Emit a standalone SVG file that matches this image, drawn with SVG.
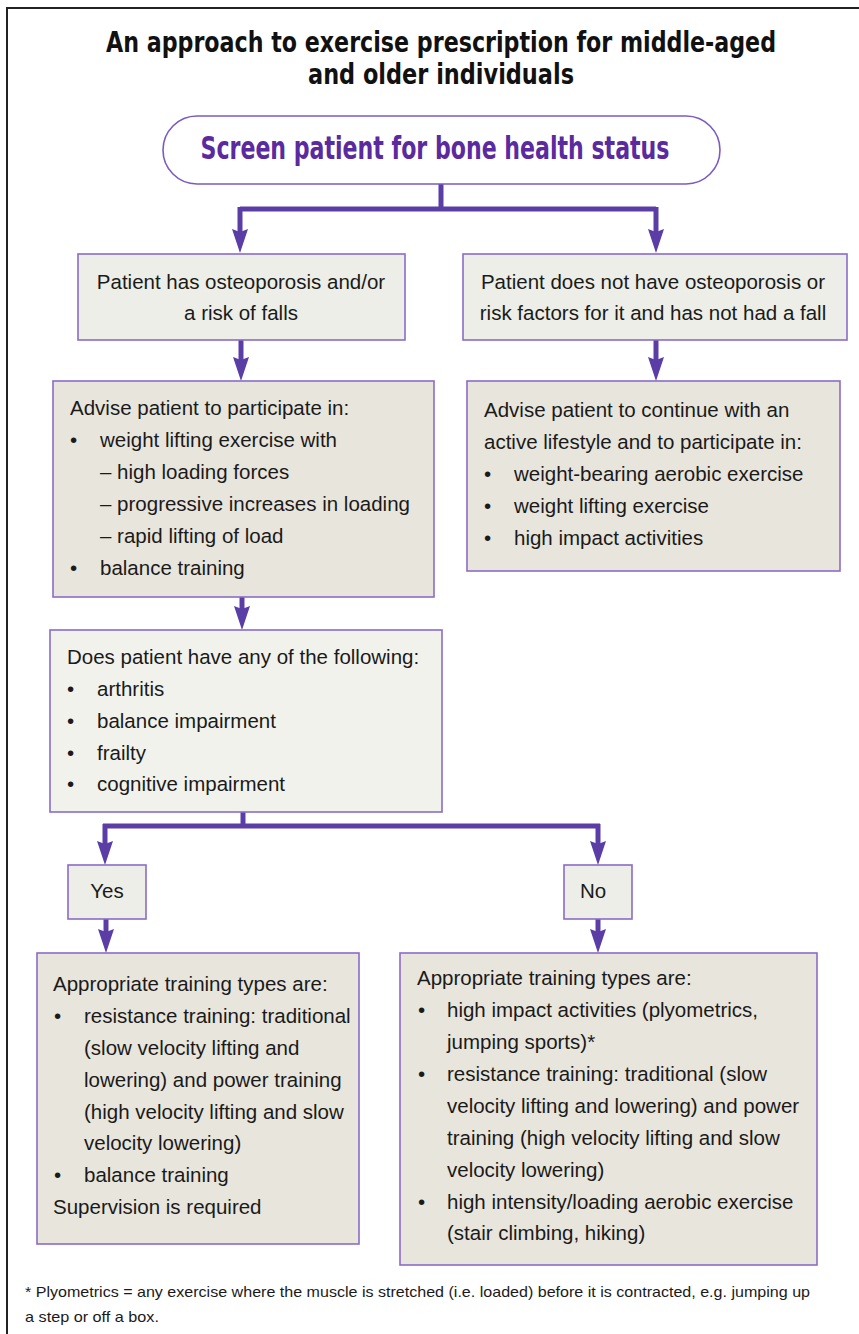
<svg xmlns="http://www.w3.org/2000/svg" width="859" height="1334" viewBox="0 0 859 1334">
<defs>
<style>
.frame{fill:none;stroke:#222;stroke-width:2}
.title{font-family:"DejaVu Sans Condensed","DejaVu Sans",sans-serif;font-weight:bold;font-stretch:condensed;font-size:25px;fill:#111;text-anchor:middle}
.screen{font-family:"DejaVu Sans Condensed","DejaVu Sans",sans-serif;font-weight:bold;font-stretch:condensed;font-size:32px;fill:#5b2a9e;text-anchor:middle}
.box{stroke:#8a6cc8;stroke-width:1.6}
.g{fill:#eceee7}
.b{fill:#e8e5dc}
.l{fill:#f2f2ec}
.t{font-family:"Liberation Sans",Arial,sans-serif;font-size:20.5px;fill:#1a1a1a}
.c{text-anchor:middle}
.fn{font-family:"Liberation Sans",Arial,sans-serif;font-size:15px;fill:#1a1a1a}
.conn{fill:none;stroke:#5a3ea6;stroke-width:5}
</style>
<marker id="ah" markerUnits="userSpaceOnUse" viewBox="0 0 24 16" markerWidth="24" markerHeight="16" refX="4" refY="8" orient="auto">
<path d="M0,0 L24,8 L0,16 L3,8 Z" fill="#5a3ea6"/>
</marker>
</defs>
<rect width="859" height="1334" fill="#fff"/>
<path class="frame" d="M7,1334 V8 H859"/>
<g id="title">
<text class="title" transform="translate(441,52) scale(1,1.16)" textLength="670" lengthAdjust="spacingAndGlyphs">An approach to exercise prescription for middle-aged</text>
<text class="title" transform="translate(441,84) scale(1,1.16)" textLength="266" lengthAdjust="spacingAndGlyphs">and older individuals</text>
</g>

<g id="connectors">
<path class="conn" d="M441,184 V209"/>
<path class="conn" d="M240,209 H656"/>
<path class="conn" d="M240,207 V233" marker-end="url(#ah)"/>
<path class="conn" d="M656,207 V233" marker-end="url(#ah)"/>
<path class="conn" d="M241,340 V361" marker-end="url(#ah)"/>
<path class="conn" d="M656,340 V361" marker-end="url(#ah)"/>
<path class="conn" d="M242,597 V610" marker-end="url(#ah)"/>
<path class="conn" d="M243,812 V826"/>
<path class="conn" d="M103,826 H600"/>
<path class="conn" d="M105,824 V845" marker-end="url(#ah)"/>
<path class="conn" d="M598,824 V845" marker-end="url(#ah)"/>
<path class="conn" d="M106,919 V933" marker-end="url(#ah)"/>
<path class="conn" d="M598,919 V933" marker-end="url(#ah)"/>
</g>

<g id="screen">
<rect x="163" y="116" width="557" height="68" rx="34" fill="#fff" stroke="#7a5cc0" stroke-width="1.6"/>
<text class="screen" x="435" y="159" textLength="469" lengthAdjust="spacingAndGlyphs">Screen patient for bone health status</text>
</g>

<g id="osteo">
<rect class="box g" x="78" y="254" width="327" height="86"/>
<text class="t c" x="241" y="289">Patient has osteoporosis and/or</text>
<text class="t c" x="241" y="320">a risk of falls</text>
</g>

<g id="no-osteo">
<rect class="box g" x="463" y="254" width="384" height="86"/>
<text class="t c" x="653" y="289">Patient does not have osteoporosis or</text>
<text class="t c" x="653" y="320">risk factors for it and has not had a fall</text>
</g>

<g id="advise1">
<rect class="box b" x="53" y="381" width="381" height="216"/>
<text class="t" x="70" y="415">Advise patient to participate in:</text>
<text class="t" x="70" y="447">•</text><text class="t" x="100" y="447">weight lifting exercise with</text>
<text class="t" x="100" y="479">– high loading forces</text>
<text class="t" x="100" y="511">– progressive increases in loading</text>
<text class="t" x="100" y="543">– rapid lifting of load</text>
<text class="t" x="70" y="575">•</text><text class="t" x="100" y="575">balance training</text>
</g>

<g id="advise2">
<rect class="box b" x="467" y="381" width="373" height="190"/>
<text class="t" x="484" y="417">Advise patient to continue with an</text>
<text class="t" x="484" y="449">active lifestyle and to participate in:</text>
<text class="t" x="484" y="481">•</text><text class="t" x="514" y="481">weight-bearing aerobic exercise</text>
<text class="t" x="484" y="513">•</text><text class="t" x="514" y="513">weight lifting exercise</text>
<text class="t" x="484" y="545">•</text><text class="t" x="514" y="545">high impact activities</text>
</g>

<g id="question">
<rect class="box l" x="50" y="630" width="392" height="182"/>
<text class="t" x="67" y="664">Does patient have any of the following:</text>
<text class="t" x="67" y="696">•</text><text class="t" x="97" y="696">arthritis</text>
<text class="t" x="67" y="728">•</text><text class="t" x="97" y="728">balance impairment</text>
<text class="t" x="67" y="760">•</text><text class="t" x="97" y="760">frailty</text>
<text class="t" x="67" y="791">•</text><text class="t" x="97" y="791">cognitive impairment</text>
</g>

<g id="yes">
<rect class="box g" x="68" y="865" width="78" height="54"/>
<text class="t c" x="107" y="898">Yes</text>
</g>

<g id="no">
<rect class="box g" x="564" y="865" width="68" height="54"/>
<text class="t c" x="593" y="898">No</text>
</g>

<g id="yes-types">
<rect class="box b" x="37" y="953" width="322" height="291"/>
<text class="t" x="53" y="991">Appropriate training types are:</text>
<text class="t" x="54" y="1023">•</text><text class="t" x="84" y="1023">resistance training: traditional</text>
<text class="t" x="84" y="1055">(slow velocity lifting and</text>
<text class="t" x="84" y="1087">lowering) and power training</text>
<text class="t" x="84" y="1119">(high velocity lifting and slow</text>
<text class="t" x="84" y="1150">velocity lowering)</text>
<text class="t" x="54" y="1182">•</text><text class="t" x="84" y="1182">balance training</text>
<text class="t" x="53" y="1214">Supervision is required</text>
</g>

<g id="no-types">
<rect class="box b" x="400" y="953" width="417" height="312"/>
<text class="t" x="417" y="985">Appropriate training types are:</text>
<text class="t" x="418" y="1017">•</text><text class="t" x="447" y="1017">high impact activities (plyometrics,</text>
<text class="t" x="447" y="1049">jumping sports)*</text>
<text class="t" x="418" y="1081">•</text><text class="t" x="447" y="1081">resistance training: traditional (slow</text>
<text class="t" x="447" y="1113">velocity lifting and lowering) and power</text>
<text class="t" x="447" y="1145">training (high velocity lifting and slow</text>
<text class="t" x="447" y="1177">velocity lowering)</text>
<text class="t" x="418" y="1209">•</text><text class="t" x="447" y="1209">high intensity/loading aerobic exercise</text>
<text class="t" x="447" y="1240">(stair climbing, hiking)</text>
</g>

<text class="fn" x="25" y="1297" textLength="785" lengthAdjust="spacingAndGlyphs">* Plyometrics = any exercise where the muscle is stretched (i.e. loaded) before it is contracted, e.g. jumping up</text>
<text class="fn" x="25" y="1322" textLength="134" lengthAdjust="spacingAndGlyphs">a step or off a box.</text>
</svg>
